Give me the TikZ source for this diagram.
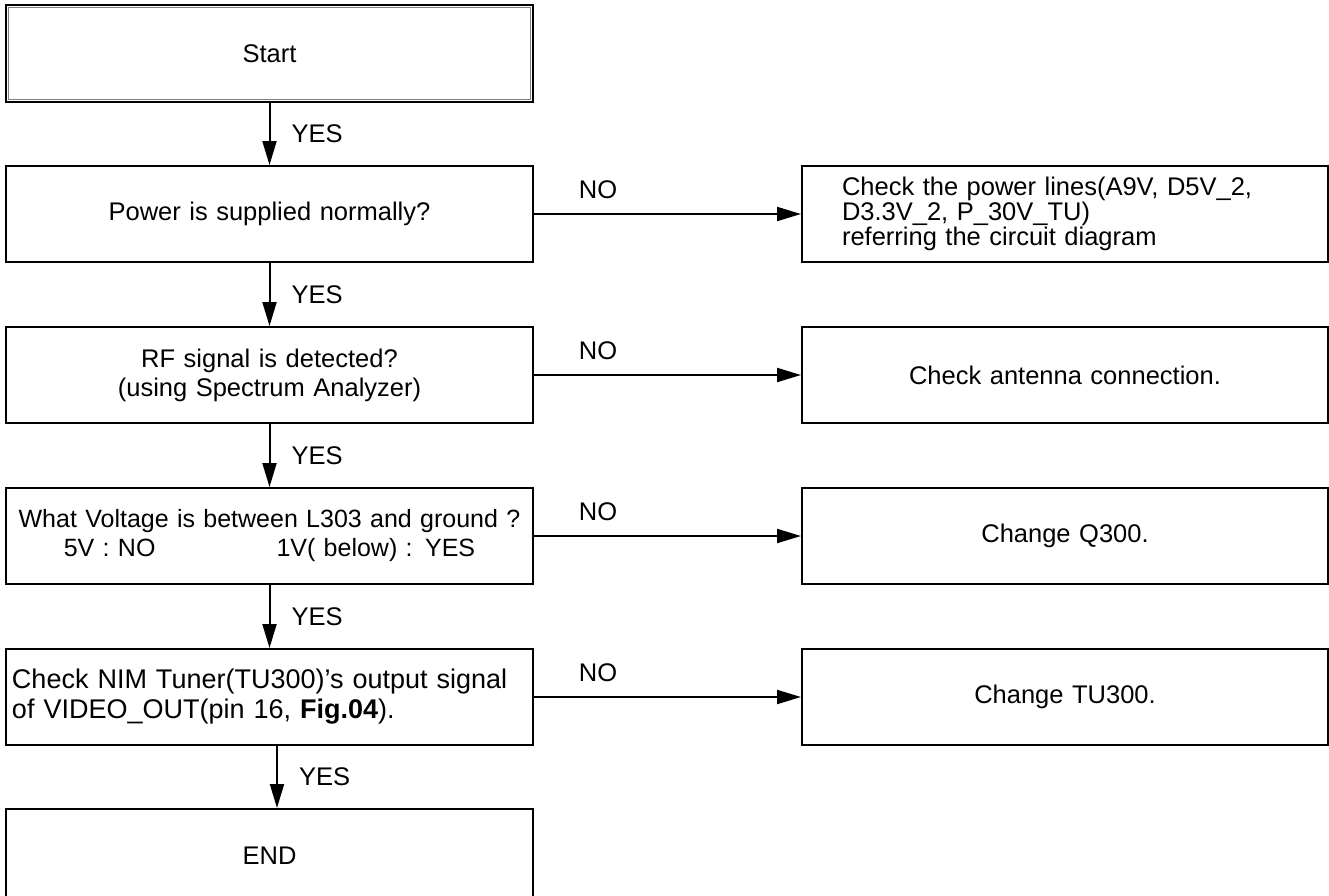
\documentclass[tikz,border=0pt]{standalone}
\usepackage{fontspec}
\setmainfont{Liberation Sans}
\usepackage{tikz}
\usetikzlibrary{arrows.meta,positioning}

\begin{document}
\begin{tikzpicture}[
  node distance=63pt and 267pt,
  box/.style={draw, rectangle, line width=2pt, minimum height=96pt, inner ysep=0pt, font=\fontsize{25.5pt}{29pt}\selectfont},
  lbox/.style={box, text width=515pt, inner xsep=6pt, align=center},
  rbox/.style={box, text width=446pt, inner xsep=40pt, align=center},
  lbl/.style={inner sep=0pt, font=\fontsize{25.5pt}{29pt}\selectfont},
  arrow/.style={-{Triangle[length=24pt, width=14pt]}, line width=2pt}
]
\useasboundingbox (0,0) rectangle (1329pt,-895pt);
\node[lbox, minimum height=97pt] (start) at (269.5pt,-53.5pt) {Start};
\draw[gray, line width=1.5pt] ([shift={(3.5pt,-3.5pt)}]start.north west) rectangle ([shift={(-3.5pt,3.5pt)}]start.south east);
\node[lbox, below=62pt of start] (pwr) {Power is supplied normally?};
\node[lbox, below=of pwr] (rf) {RF signal is detected?\\(using Spectrum Analyzer)};
\node[lbox, below=of rf, font=\fontsize{25pt}{29pt}\selectfont] (volt) {What Voltage is between L303 and ground ?\\5V : NO\hspace{121pt}1V( below) : YES};
\node[lbox, below=of volt, align=left, font=\fontsize{27pt}{30pt}\selectfont] (nim) {Check NIM Tuner(TU300)'s output signal\\of VIDEO\_OUT(pin 16, \textbf{Fig.04}).};
\node[lbox, below=62pt of nim, minimum height=94pt] (fin) {END};
\node[rbox, right=of pwr, align=left, font=\fontsize{25.5pt}{22.5pt}\selectfont] (chkpwr) {Check the power lines(A9V, D5V\_2,\\D3.3V\_2, P\_30V\_TU)\\referring the circuit diagram};
\node[rbox, right=of rf] (chkant) {Check antenna connection.};
\node[rbox, right=of volt] (chgq) {Change Q300.};
\node[rbox, right=of nim] (chgtu) {Change TU300.};
\draw[arrow] (start) -- node[lbl, right=21pt] {YES} (pwr);
\draw[arrow] (pwr) -- node[lbl, right=21pt] {YES} (rf);
\draw[arrow] (rf) -- node[lbl, right=21pt] {YES} (volt);
\draw[arrow] (volt) -- node[lbl, right=21pt] {YES} (nim);
\draw[arrow] ([xshift=7.5pt]nim.south) -- node[lbl, right=21pt] {YES} ([xshift=7.5pt]fin.north);
\draw[arrow] (pwr) -- node[lbl, above=14pt, pos=0.24] {NO} (chkpwr);
\draw[arrow] (rf) -- node[lbl, above=14pt, pos=0.24] {NO} (chkant);
\draw[arrow] (volt) -- node[lbl, above=14pt, pos=0.24] {NO} (chgq);
\draw[arrow] (nim) -- node[lbl, above=14pt, pos=0.24] {NO} (chgtu);
\end{tikzpicture}
\end{document}
